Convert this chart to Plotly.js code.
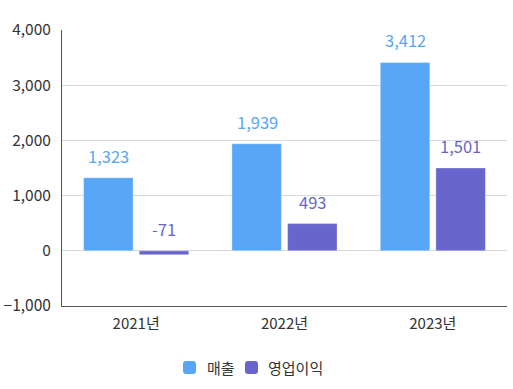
<!DOCTYPE html>
<html><head><meta charset="utf-8">
<script src="https://cdn.plot.ly/plotly-3.0.1.min.js"></script>
<style>body{margin:0;background:#fff}#c{width:513px;height:389px}</style>
</head><body><div id="c"></div>
<script>
const years = ["2021년", "2022년", "2023년"];
const sales = [1323, 1939, 3412];
const opProfit = [-71, 493, 1501];
const seriesNames = ["매출", "영업이익"];
const colors = ["#57A7F6", "#6866CC"];
const FONT = "'Noto Sans CJK KR', 'Noto Sans', sans-serif";
const fmt = v => v.toLocaleString('en-US');

const M = {l: 62, r: 6, t: 30, b: 83};
const W = 513, H = 389;
const PW = W - M.l - M.r, PH = H - M.t - M.b;
const px2x = p => (p - M.l) / PW;
const py2y = p => (H - M.b - p) / PH;

const traces = [sales, opProfit].map((vals, i) => ({
  type: 'bar', x: years, y: vals, name: seriesNames[i],
  marker: {color: colors[i], line: {color: 'rgba(255,255,255,0.35)', width: 1}},
  hoverinfo: 'none', showlegend: false
}));

const annotations = [];
[sales, opProfit].forEach((vals, i) => {
  vals.forEach((v, j) => {
    annotations.push({
      x: years[j], y: Math.max(v, 0), xref: 'x', yref: 'y',
      text: fmt(v), showarrow: false, yanchor: 'bottom',
      xshift: (i === 0 ? -1 : 1) * 27.5, yshift: 8,
      font: {family: FONT, size: 16.5, color: colors[i]}
    });
  });
});

// custom legend (rounded squares + labels)
const shapes = [];
const legendItems = [{x0: 183, text: 205}, {x0: 245, text: 266}];
const ly0 = 361, ly1 = 374, r = 3;
legendItems.forEach((it, i) => {
  const x0 = it.x0, x1 = it.x0 + 13;
  const path = `M ${x0 + r} ${ly0} L ${x1 - r} ${ly0} Q ${x1} ${ly0} ${x1} ${ly0 + r} ` +
    `L ${x1} ${ly1 - r} Q ${x1} ${ly1} ${x1 - r} ${ly1} L ${x0 + r} ${ly1} Q ${x0} ${ly1} ${x0} ${ly1 - r} ` +
    `L ${x0} ${ly0 + r} Q ${x0} ${ly0} ${x0 + r} ${ly0} Z`;
  const conv = path.replace(/(-?\d+(\.\d+)?) (-?\d+(\.\d+)?)/g, (m, a, _, b) => `${px2x(+a)} ${py2y(+b)}`);
  shapes.push({type: 'path', xref: 'paper', yref: 'paper', path: conv,
               fillcolor: colors[i], line: {width: 0}});
  annotations.push({xref: 'paper', yref: 'paper', x: px2x(it.text), y: py2y((ly0 + ly1) / 2),
    xanchor: 'left', yanchor: 'middle', showarrow: false, text: seriesNames[i],
    font: {family: FONT, size: 15, color: '#333'}});
});

const layout = {
  width: W, height: H,
  margin: M,
  paper_bgcolor: '#fff', plot_bgcolor: '#fff',
  font: {family: FONT, size: 15, color: '#333'},
  barmode: 'group', bargap: 0.25, bargroupgap: 0.11,
  showlegend: false,
  xaxis: {showline: true, linecolor: '#555', linewidth: 1, ticks: '',
          tickfont: {family: FONT, size: 15, color: '#333'}, ticklabelstandoff: 4},
  yaxis: {range: [-1000, 4000], dtick: 1000, tickformat: ',d',
          showline: true, linecolor: '#555', linewidth: 1,
          showgrid: true, gridcolor: '#d9d9d9', zeroline: true, zerolinecolor: '#d9d9d9', zerolinewidth: 1,
          tickfont: {family: FONT, size: 15.5, color: '#333'}, ticklabelstandoff: 7},
  annotations: annotations,
  shapes: shapes
};
Plotly.newPlot('c', traces, layout, {displayModeBar: false, staticPlot: true});
</script></body></html>
